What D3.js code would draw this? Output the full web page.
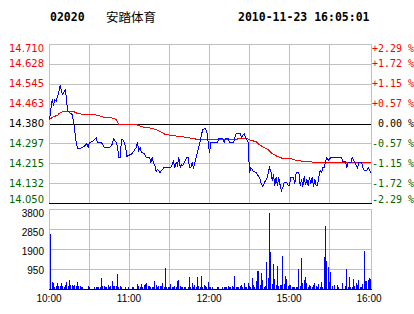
<!DOCTYPE html>
<html>
<head>
<meta charset="utf-8">
<script src="https://cdn.jsdelivr.net/npm/d3@7"></script>
<style>
  body { margin: 0; background: #fff; }
</style>
</head>
<body>
<script>
// header
const stockCode = '02020';
const stockName = '安踏体育';
const stamp = '2010-11-23 16:05:01';
const prevClose = 14.38;

// axis ticks
const priceTicks = [14.710, 14.628, 14.545, 14.463, 14.380, 14.297, 14.215, 14.132, 14.050];
const pctTicks = ['+2.29', '+1.72', '+1.15', '+0.57', '0.00', '-0.57', '-1.15', '-1.72', '-2.29'];
const volTicks = [3800, 2850, 1900, 950];
const timeTicks = ['10:00', '11:00', '12:00', '15:00', '16:00'];

// price line (trading minute since 10:00, price)
const priceMin = [0, 1, 2, 3, 4, 5, 6, 7, 8, 9, 10, 11, 12, 13, 14, 16, 17, 18, 19, 20,
  21, 23, 26, 28, 29, 30, 32, 34, 35, 36, 39, 41, 45, 47, 48, 50, 51, 52, 53, 54,
  55, 56, 57, 58, 59, 61, 62, 64, 65, 66, 67, 68, 69, 71, 72, 73, 75, 76, 77, 78,
  79, 80, 81, 83, 84, 86, 91, 92, 93, 94, 95, 96, 97, 98, 99, 100, 101, 102, 103, 104,
  105, 106, 107, 108, 109, 110, 111, 112, 113, 114, 115, 117, 118, 119, 120, 121, 126, 127, 130, 131,
  132, 134, 135, 138, 139, 140, 143, 144, 145, 146, 147, 148, 149, 150, 151, 152, 153, 155, 156, 158,
  159, 160, 161, 162, 163, 165, 166, 167, 168, 169, 170, 171, 172, 173, 174, 175, 176, 178, 179, 180,
  181, 183, 184, 185, 187, 188, 189, 190, 191, 192, 193, 194, 195, 196, 197, 198, 199, 200, 201, 202,
  203, 204, 205, 206, 207, 208, 209, 211, 219, 220, 222, 223, 224, 226, 227, 228, 229, 231, 232, 234,
  235, 236, 238, 239, 240, 241];
const priceVal = [14.400, 14.439, 14.480, 14.463, 14.480, 14.474, 14.494, 14.515, 14.540, 14.515, 14.504, 14.515, 14.522, 14.460, 14.432, 14.425, 14.418, 14.391, 14.350, 14.302,
  14.278, 14.278, 14.288, 14.297, 14.281, 14.302, 14.309, 14.315, 14.322, 14.302, 14.302, 14.281, 14.281, 14.295, 14.319, 14.302, 14.288, 14.243, 14.243, 14.315,
  14.315, 14.302, 14.288, 14.244, 14.251, 14.253, 14.256, 14.274, 14.284, 14.302, 14.270, 14.281, 14.260, 14.256, 14.247, 14.240, 14.243, 14.219, 14.243, 14.219,
  14.206, 14.182, 14.191, 14.178, 14.185, 14.201, 14.201, 14.212, 14.226, 14.201, 14.219, 14.206, 14.240, 14.199, 14.210, 14.206, 14.219, 14.229, 14.240, 14.243,
  14.201, 14.199, 14.219, 14.201, 14.219, 14.240, 14.260, 14.288, 14.309, 14.336, 14.356, 14.363, 14.350, 14.305, 14.260, 14.302, 14.302, 14.319, 14.319, 14.302,
  14.319, 14.319, 14.302, 14.302, 14.325, 14.342, 14.342, 14.325, 14.333, 14.342, 14.325, 14.315, 14.302, 14.178, 14.201, 14.191, 14.183, 14.178, 14.171, 14.150,
  14.130, 14.121, 14.135, 14.145, 14.155, 14.200, 14.185, 14.144, 14.171, 14.123, 14.160, 14.123, 14.157, 14.123, 14.105, 14.116, 14.137, 14.137, 14.123, 14.123,
  14.157, 14.157, 14.132, 14.178, 14.178, 14.123, 14.150, 14.119, 14.164, 14.130, 14.150, 14.123, 14.157, 14.132, 14.157, 14.119, 14.150, 14.123, 14.123, 14.164,
  14.185, 14.180, 14.199, 14.201, 14.226, 14.243, 14.229, 14.243, 14.243, 14.226, 14.226, 14.201, 14.219, 14.219, 14.240, 14.233, 14.219, 14.201, 14.219, 14.219,
  14.199, 14.185, 14.185, 14.199, 14.191, 14.178];

// average price line
const avgMin = [0, 3, 6, 7, 10, 13, 18, 21, 26, 33, 37, 41, 46, 50, 52, 65, 67, 71, 74, 80,
  83, 87, 92, 97, 104, 107, 112, 140, 142, 148, 151, 155, 157, 161, 164, 167, 171, 175, 181, 185,
  192, 202, 235, 241];
const avgVal = [14.400, 14.412, 14.416, 14.425, 14.430, 14.432, 14.432, 14.425, 14.421, 14.421, 14.416, 14.408, 14.405, 14.398, 14.380, 14.380, 14.375, 14.366, 14.364, 14.356,
  14.350, 14.336, 14.333, 14.329, 14.325, 14.319, 14.315, 14.315, 14.318, 14.318, 14.311, 14.306, 14.295, 14.281, 14.274, 14.256, 14.247, 14.237, 14.236, 14.229,
  14.223, 14.222, 14.219, 14.219];

// volume per trading minute, 0 .. 241
const volume = [
  2600, 190, 350, 290, 110, 150, 300, 150, 150, 300,
  150, 80, 190, 350, 150, 440, 190, 190, 150, 190,
  150, 350, 150, 150, 110, 110, 0, 0, 0, 150,
  110, 0, 0, 0, 110, 110, 110, 110, 110, 505,
  150, 150, 110, 110, 210, 110, 150, 400, 150, 150,
  150, 710, 110, 150, 80, 0, 0, 110, 0, 110,
  0, 0, 110, 110, 0, 0, 250, 150, 110, 250,
  110, 190, 230, 290, 150, 150, 80, 110, 110, 400,
  190, 110, 150, 150, 150, 300, 110, 980, 110, 110,
  110, 250, 110, 110, 150, 110, 400, 440, 150, 110,
  80, 110, 80, 0, 80, 550, 110, 290, 110, 190,
  80, 550, 150, 110, 630, 110, 190, 150, 110, 350,
  110, 110, 110, 0, 0, 0, 110, 110, 0, 0,
  80, 110, 110, 110, 150, 110, 110, 150, 110, 600,
  110, 110, 110, 150, 190, 110, 300, 110, 110, 270,
  150, 110, 510, 190, 80, 400, 870, 840, 210, 760,
  440, 80, 150, 1300, 510, 3610, 1770, 250, 1200, 470,
  200, 1110, 150, 190, 190, 1580, 250, 600, 460, 150,
  190, 190, 110, 110, 110, 110, 110, 950, 150, 1490,
  290, 440, 580, 290, 110, 190, 150, 110, 190, 290,
  150, 80, 250, 110, 350, 110, 1500, 3000, 1340, 1030,
  350, 820, 150, 0, 190, 0, 190, 80, 0, 0,
  290, 0, 150, 960, 110, 580, 110, 110, 460, 150,
  290, 190, 440, 110, 110, 250, 1820, 400, 400, 440,
  510, 480
];

const upColor = '#ff0000';
const downColor = '#006600';
const gridColor = '#c0c0c0';

// trading minutes: morning 10:00-12:30, afternoon 14:30-16:00
function tradeMin(t) {
  const [h, mm] = t.split(':').map(Number);
  const m = h * 60 + mm;
  return m <= 750 ? m - 600 : m - 870 + 150;
}

const svg = d3.select('body').append('svg')
  .attr('width', 414)
  .attr('height', 314);

const left = 49, right = 371;
const x = d3.scaleLinear().domain([0, 240]).range([left, 369]);
const y = d3.scaleLinear().domain([14.05, 14.71]).range([203, 44]);
const yv = d3.scaleLinear().domain([0, 3800]).range([289, 209]);
const px = v => Math.round(v) + 0.5;

// header
const head = svg.append('g')
  .attr('font-family', '"DejaVu Sans Mono", monospace')
  .attr('font-weight', 'bold')
  .attr('font-size', '11.5px')
  .attr('fill', '#000');
head.append('text').attr('x', 50).attr('y', 21).text(stockCode);
head.append('text').attr('x', 106).attr('y', 22)
  .attr('font-family', '"Noto Sans CJK SC", sans-serif')
  .attr('font-weight', 'normal')
  .attr('font-size', '12.5px')
  .text(stockName);
head.append('text').attr('x', 238).attr('y', 21).text(stamp);

// grid
const grid = svg.append('g').attr('shape-rendering', 'crispEdges');
const vLines = d3.range(1, 8).map(k => left + k * 40);

grid.selectAll('.pv').data(vLines).join('line')
  .attr('x1', d => px(d)).attr('x2', d => px(d))
  .attr('y1', 44).attr('y2', 203)
  .attr('stroke', gridColor);
grid.selectAll('.vv').data(vLines).join('line')
  .attr('x1', d => px(d)).attr('x2', d => px(d))
  .attr('y1', 209).attr('y2', 289)
  .attr('stroke', gridColor);

grid.selectAll('.ph').data(priceTicks).join('line')
  .attr('x1', left).attr('x2', right + 1)
  .attr('y1', d => px(y(d))).attr('y2', d => px(y(d)))
  .attr('stroke', (d, i) => (d === prevClose || i === priceTicks.length - 1) ? '#000' : gridColor);

grid.selectAll('.vh').data(volTicks).join('line')
  .attr('x1', left).attr('x2', right + 1)
  .attr('y1', d => px(yv(d))).attr('y2', d => px(yv(d)))
  .attr('stroke', gridColor);

// frame sides
[[44, 203], [209, 289]].forEach(([a, b]) => {
  grid.append('line').attr('x1', px(left)).attr('x2', px(left)).attr('y1', a).attr('y2', b).attr('stroke', gridColor);
  grid.append('line').attr('x1', px(right)).attr('x2', px(right)).attr('y1', a).attr('y2', b).attr('stroke', gridColor);
});
grid.append('line').attr('x1', left).attr('x2', right + 1)
  .attr('y1', px(yv(0))).attr('y2', px(yv(0))).attr('stroke', '#000');

// labels
const tickColor = (d, i) => i < 4 ? upColor : (i === 4 ? '#000' : downColor);
const labY = v => Math.max(48, Math.min(199, y(v)));

svg.append('g').selectAll('text').data(priceTicks).join('text')
  .attr('x', 44).attr('y', d => labY(d)).attr('dy', '0.36em')
  .attr('text-anchor', 'end')
  .attr('font-family', '"DejaVu Sans", sans-serif')
  .attr('font-size', '10px')
  .attr('fill', tickColor)
  .text(d => d.toFixed(3));

svg.append('g').selectAll('text').data(pctTicks).join('text')
  .attr('x', 372).attr('y', (d, i) => labY(priceTicks[i])).attr('dy', '0.36em')
  .attr('font-family', '"DejaVu Sans Mono", monospace')
  .attr('font-size', '10px')
  .style('white-space', 'pre')
  .attr('fill', tickColor)
  .text(d => (d === '0.00' ? ' ' : '') + d + ' %');

const volLab = d3.scaleLinear().domain([3800, 950]).range([213.5, 270]);
svg.append('g').selectAll('text').data(volTicks).join('text')
  .attr('x', 44).attr('y', d => volLab(d)).attr('dy', '0.36em')
  .attr('text-anchor', 'end')
  .attr('font-family', '"Liberation Sans", Arial, sans-serif')
  .attr('font-size', '10px')
  .attr('fill', '#000')
  .text(d => d);

svg.append('g').selectAll('text').data(timeTicks).join('text')
  .attr('x', d => x(tradeMin(d))).attr('y', 302)
  .attr('text-anchor', 'middle')
  .attr('font-family', '"Liberation Sans", Arial, sans-serif')
  .attr('font-size', '10px')
  .attr('fill', '#000')
  .text(d => d);

// volume bars
svg.append('g').attr('shape-rendering', 'crispEdges')
  .selectAll('rect').data(volume).join('rect')
  .attr('x', (d, i) => Math.max(50, Math.round(x(i))))
  .attr('width', 1)
  .attr('y', d => yv(d))
  .attr('height', d => yv(0) - yv(d))
  .attr('fill', '#0000ff');

// average & price lines
const avgData = avgMin.map((m, i) => ({ m, p: avgVal[i] }));
const priceData = priceMin.map((m, i) => ({ m, p: priceVal[i] }));
const line = d3.line().x(d => x(d.m) + 0.5).y(d => Math.round(y(d.p)) + 0.5);

svg.append('path').datum(avgData)
  .attr('d', line)
  .attr('fill', 'none')
  .attr('stroke', '#ff0000')
  .attr('shape-rendering', 'crispEdges');

svg.append('path').datum(priceData)
  .attr('d', line)
  .attr('fill', 'none')
  .attr('stroke', '#0000ff')
  .attr('shape-rendering', 'crispEdges');
</script>
</body>
</html>
